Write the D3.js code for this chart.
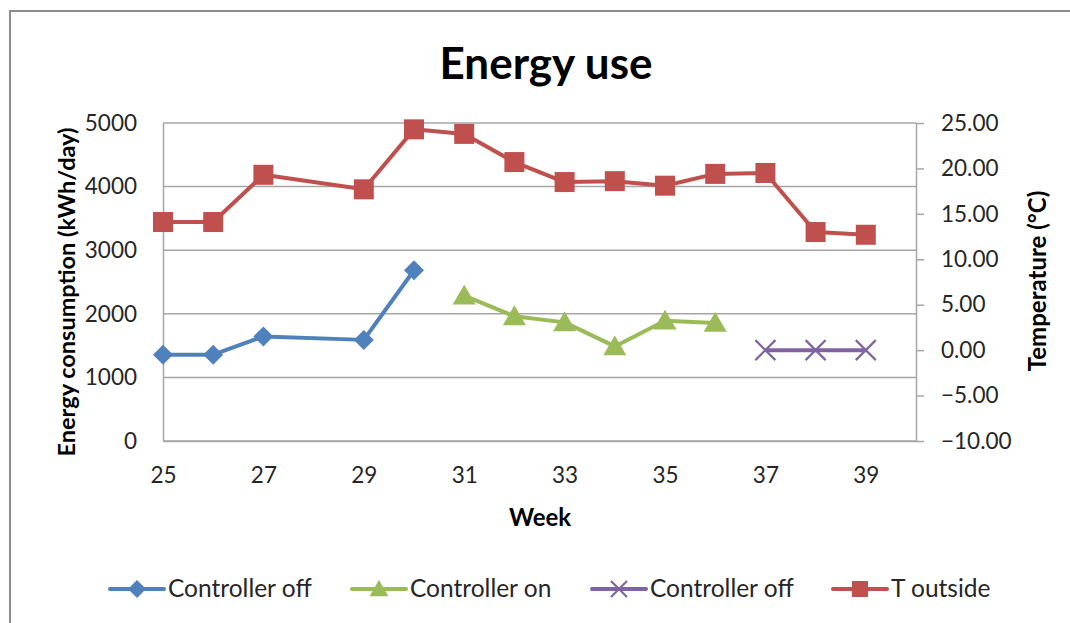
<!DOCTYPE html>
<html><head><meta charset="utf-8">
<script src="https://cdn.jsdelivr.net/npm/d3@7/dist/d3.min.js"></script>
<style>
body{margin:0;background:#fff;}
svg{display:block;font-family:Lato,"Open Sans",sans-serif;}
</style></head>
<body><svg id="c" width="1070" height="623"></svg>
<script>
// Data
const weeksOff1 = [25, 26, 27, 29, 30];
const energyOff1 = [1357, 1357, 1644, 1590, 2685];
const weeksOn = [31, 32, 33, 34, 35, 36];
const energyOn = [2285, 1960, 1865, 1487, 1891, 1857];
const weeksOff2 = [37, 38, 39];
const tempOff2 = [0, 0, 0];
const weeksT = [25, 26, 27, 29, 30, 31, 32, 33, 34, 35, 36, 37, 38, 39];
const tempOutside = [14.1, 14.1, 19.3, 17.7, 24.3, 23.8, 20.7, 18.5, 18.6, 18.1, 19.4, 19.5, 13.0, 12.7];
const xTicks = [25, 27, 29, 31, 33, 35, 37, 39];
const yLeftTicks = [0, 1000, 2000, 3000, 4000, 5000];
const yRightTicks = [-10, -5, 0, 5, 10, 15, 20, 25];
const legendNames = ["Controller off", "Controller on", "Controller off", "T outside"];

const svg = d3.select("#c");
const L = 163, R = 916, T = 123, B = 441;
const x = d3.scaleLinear().domain([25, 40]).range([L, R]);
const yL = d3.scaleLinear().domain([0, 5000]).range([B, T]);
const yR = d3.scaleLinear().domain([-10, 25]).range([B, T]);

const blue = "#4F81BD", green = "#9BBB59", purple = "#8064A2", red = "#C0504D";
const grid = "#a6a6a6", txt = "#262626";
const tickFont = 22.5;

// outer border
svg.append("rect").attr("x", 10).attr("y", 11).attr("width", 1100).attr("height", 700)
  .attr("fill", "none").attr("stroke", "#8c8c8c").attr("stroke-width", 2);

// title
svg.append("text").attr("x", 546).attr("y", 79).attr("text-anchor", "middle")
  .attr("font-size", 44).attr("font-weight", "bold").attr("fill", "#000").text("Energy use");

// gridlines
svg.append("g").selectAll("line").data(yLeftTicks).join("line")
  .attr("x1", L).attr("x2", R).attr("y1", d => yL(d)).attr("y2", d => yL(d))
  .attr("stroke", grid).attr("stroke-width", 1.5);

// left axis
const gL = svg.append("g").attr("transform", `translate(${L},0)`)
  .call(d3.axisLeft(yL).tickValues(yLeftTicks).tickSize(0).tickPadding(26).tickFormat(d3.format("d")));
gL.select(".domain").attr("stroke", grid).attr("stroke-width", 1.5);
gL.selectAll("text").attr("font-size", tickFont).attr("fill", txt).attr("font-family", "Lato,sans-serif");

// right axis
const gR = svg.append("g").attr("transform", `translate(${R},0)`)
  .call(d3.axisRight(yR).tickValues(yRightTicks).tickSize(8).tickPadding(17).tickFormat(d3.format(".2f")).tickSizeOuter(0));
gR.select(".domain").attr("stroke", grid).attr("stroke-width", 1.5);
gR.selectAll(".tick line").attr("stroke", grid).attr("stroke-width", 1.5);
gR.selectAll("text").attr("font-size", tickFont).attr("fill", txt).attr("font-family", "Lato,sans-serif");

// bottom axis
const gB = svg.append("g").attr("transform", `translate(0,${B})`)
  .call(d3.axisBottom(x).tickValues(xTicks).tickSize(0).tickPadding(26).tickSizeOuter(0).tickFormat(d3.format("d")));
gB.select(".domain").attr("stroke", grid).attr("stroke-width", 1.5);
gB.selectAll("text").attr("font-size", tickFont).attr("fill", txt).attr("font-family", "Lato,sans-serif");

// axis titles
svg.append("text").attr("x", 540).attr("y", 526).attr("text-anchor", "middle")
  .attr("font-size", 24).attr("font-weight", "bold").attr("fill", "#000").text("Week");
svg.append("text").attr("transform", "translate(75,292) rotate(-90)").attr("text-anchor", "middle")
  .attr("font-size", 23.5).attr("font-weight", "bold").attr("fill", "#000").text("Energy consumption (kWh/day)");
svg.append("text").attr("transform", "translate(1046,281) rotate(-90)").attr("text-anchor", "middle")
  .attr("font-size", 24).attr("font-weight", "bold").attr("fill", "#000").text("Temperature (°C)");

// markers
function marker(g, type, color, cx, cy, s) {
  if (type === "diamond") {
    g.append("path").attr("d", `M${cx},${cy-s}L${cx+s},${cy}L${cx},${cy+s}L${cx-s},${cy}Z`).attr("fill", color);
  } else if (type === "triangle") {
    g.append("path").attr("d", `M${cx},${cy-s}L${cx+s*1.05},${cy+s*0.8}L${cx-s*1.05},${cy+s*0.8}Z`).attr("fill", color);
  } else if (type === "square") {
    g.append("rect").attr("x", cx - s).attr("y", cy - s).attr("width", 2*s).attr("height", 2*s).attr("fill", color);
  } else if (type === "x") {
    g.append("path").attr("d", `M${cx-s},${cy-s}L${cx+s},${cy+s}M${cx-s},${cy+s}L${cx+s},${cy-s}`)
      .attr("stroke", color).attr("stroke-width", 2.2).attr("fill", "none");
  }
}

function series(xs, ys, yScale, color, type, size) {
  const pts = xs.map((d, i) => [x(d), yScale(ys[i])]);
  const g = svg.append("g");
  g.append("path").attr("d", d3.line()(pts)).attr("fill", "none").attr("stroke", color)
    .attr("stroke-width", 4).attr("stroke-linejoin", "round");
  pts.forEach(p => marker(g, type, color, p[0], p[1], size));
}

series(weeksOff1, energyOff1, yL, blue, "diamond", 10);
series(weeksOn, energyOn, yL, green, "triangle", 11);
series(weeksOff2, tempOff2, yR, purple, "x", 10);
series(weeksT, tempOutside, yR, red, "square", 10);

// legend
const legend = [
  {name: legendNames[0], color: blue, type: "diamond", x0: 110, size: 9},
  {name: legendNames[1], color: green, type: "triangle", x0: 352, size: 9},
  {name: legendNames[2], color: purple, type: "x", x0: 592, size: 8},
  {name: legendNames[3], color: red, type: "square", x0: 833, size: 8}
];
const ly = 589;
legend.forEach(d => {
  const g = svg.append("g");
  g.append("line").attr("x1", d.x0).attr("x2", d.x0 + 54).attr("y1", ly).attr("y2", ly)
    .attr("stroke", d.color).attr("stroke-width", 4).attr("stroke-linecap", "round");
  marker(g, d.type, d.color, d.x0 + 27, ly, d.size);
  g.append("text").attr("x", d.x0 + 58).attr("y", ly + 8).attr("font-size", 24.5).attr("fill", txt).text(d.name);
});
</script></body></html>
